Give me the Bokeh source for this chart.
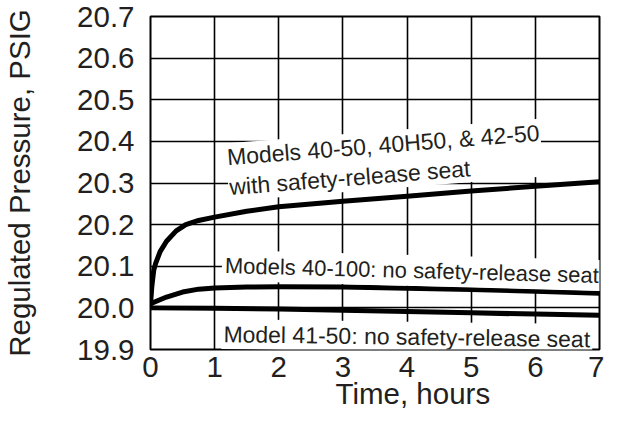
import math
from bokeh.plotting import figure
from bokeh.models import Range1d, FixedTicker, Label, NumeralTickFormatter, Title
from bokeh.embed import file_html
from bokeh.resources import INLINE

# Data
x_ticks = [0, 1, 2, 3, 4, 5, 6, 7]
y_ticks = [19.9, 20.0, 20.1, 20.2, 20.3, 20.4, 20.5, 20.6, 20.7]

upper_x = [0, 0.02, 0.05, 0.08, 0.15, 0.25, 0.4, 0.55, 0.75, 1, 1.5, 2, 3, 4, 5, 6, 7]
upper_y = [20.008, 20.05, 20.09, 20.107, 20.135, 20.16, 20.185, 20.2, 20.21, 20.218,
           20.232, 20.243, 20.256, 20.268, 20.281, 20.292, 20.303]

mid_x = [0, 0.25, 0.5, 0.75, 1, 1.5, 2, 3, 4, 5, 6, 7]
mid_y = [20.01, 20.026, 20.038, 20.045, 20.048, 20.05, 20.051, 20.05, 20.047, 20.044, 20.04, 20.035]

low_x = [0, 1, 2, 3, 4, 5, 6, 7]
low_y = [20.0, 19.999, 19.997, 19.994, 19.991, 19.988, 19.985, 19.982]

label_upper = "Models 40-50, 40H50, & 42-50\nwith safety-release seat"
label_mid = "Models 40-100: no safety-release seat"
label_low = "Model 41-50: no safety-release seat"
x_title = "Time, hours"
y_title = "Regulated Pressure, PSIG"

TXT = "#231f20"
FONT = "Liberation Sans"
BIG = "29.5px"

p = figure(width=604, height=410, output_backend="svg", toolbar_location=None,
           x_range=Range1d(0, 7), y_range=Range1d(19.9, 20.7),
           min_border_left=147, min_border_right=5, min_border_top=16, min_border_bottom=61)

p.outline_line_color = "black"
p.outline_line_width = 2
p.background_fill_color = "white"
p.border_fill_color = "white"

for ax in (p.xaxis[0], p.yaxis[0]):
    ax.axis_line_color = None
    ax.major_tick_line_color = None
    ax.minor_tick_line_color = None
    ax.major_label_text_font = FONT
    ax.major_label_text_font_size = BIG
    ax.major_label_text_color = TXT
    ax.axis_label_text_font = FONT
    ax.axis_label_text_font_size = BIG
    ax.axis_label_text_font_style = "normal"
    ax.axis_label_text_color = TXT

p.xaxis[0].ticker = FixedTicker(ticks=x_ticks)
p.yaxis[0].ticker = FixedTicker(ticks=y_ticks)
p.yaxis[0].formatter = NumeralTickFormatter(format="0.0")
p.xaxis[0].major_label_standoff = 1
p.yaxis[0].major_label_standoff = 10
p.yaxis[0].axis_label = y_title
p.yaxis[0].axis_label_standoff = 38

p.add_layout(Title(text=x_title, align="left", offset=185, standoff=-10,
                   text_font=FONT, text_font_size=BIG, text_font_style="normal",
                   text_color=TXT), "below")

p.xgrid.grid_line_color = "black"
p.ygrid.grid_line_color = "black"
p.xgrid.grid_line_width = 1.6
p.ygrid.grid_line_width = 1.6

for xs, ys in ((upper_x, upper_y), (mid_x, mid_y), (low_x, low_y)):
    p.line(xs, ys, line_color="black", line_width=5, line_join="round", line_cap="round")

common = dict(text_font=FONT, text_color=TXT, background_fill_color="white",
              text_align="left", text_baseline="top")

p.add_layout(Label(x=1.16, y=20.395, text=label_upper, text_font_size="23px",
                   angle=math.radians(4.5), text_line_height=1.15, padding=1, **common))
p.add_layout(Label(x=1.12, y=20.139, text=label_mid, text_font_size="22px",
                   angle=math.radians(-1.5), padding=3, **common))
p.add_layout(Label(x=1.11, y=19.973, text=label_low, text_font_size="23px",
                   angle=math.radians(-0.8), padding=2, **common))

open("out.html", "w").write(file_html(p, INLINE))
